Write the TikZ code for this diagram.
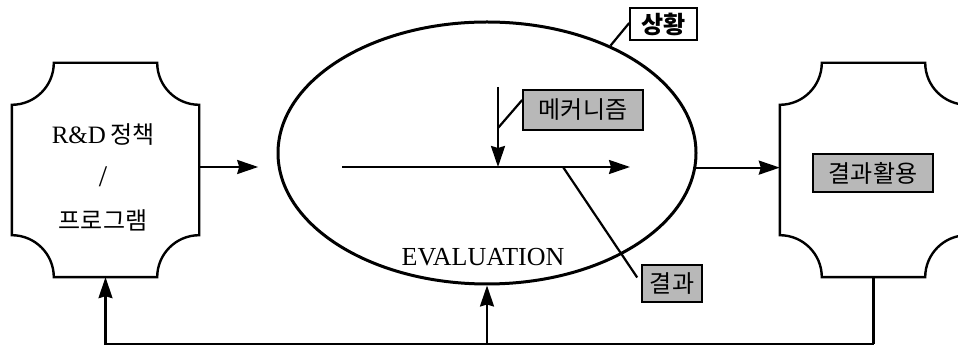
\documentclass[tikz,border=0pt]{standalone}
\usepackage{fontspec}
\setmainfont{Liberation Serif}
\newfontfamily\cjk{Noto Sans CJK KR}
\usetikzlibrary{arrows.meta,shapes.geometric,calc}
\newcommand\notchdraw[1]{\draw[line width=2.4pt] ([xshift=42pt]#1.north west) -- ([xshift=-42pt]#1.north east) arc[start angle=180,end angle=270,radius=42pt] -- ([yshift=42pt]#1.south east) arc[start angle=90,end angle=180,radius=42pt] -- ([xshift=42pt]#1.south west) arc[start angle=0,end angle=90,radius=42pt] -- ([yshift=-42pt]#1.north west) arc[start angle=270,end angle=360,radius=42pt] -- cycle;}
\begin{document}
\begin{tikzpicture}[x=1pt,y=1pt,
  arr/.style={line width=2.2pt,-{Stealth[length=21pt,width=14pt,inset=2pt]}},
  ln/.style={line width=2.2pt},
  lbl/.style={draw,line width=1.6pt,fill=black!28,inner sep=0pt,font=\cjk\fontsize{24}{26}\selectfont},
  notch/.style={inner sep=0pt,minimum width=187pt,minimum height=214pt}]
\useasboundingbox (0,0) rectangle (958,347);
\clip (0,0) rectangle (958,347);
\fill[white] (0,0) rectangle (958,347);
% notched boxes
\node[notch] (L) at (105.5,177) {};
\node[notch] (R) at (873.5,177) {};
\notchdraw{L}
\notchdraw{R}
\node[align=center,inner sep=0pt,font=\fontsize{25}{43}\selectfont] (Lt) at (103,170)
  {R\&D\,{\cjk\fontsize{24}{43}\selectfont 정책}\\{\fontsize{30}{43}\selectfont/}\\{\cjk\fontsize{24}{43}\selectfont 프로그램}};
% ellipse
\node[draw,ellipse,line width=3pt,inner sep=0pt,minimum width=418pt,minimum height=262pt] (E) at (487,194) {};
\node[font=\fontsize{26}{28}\selectfont,inner sep=0pt] (ev) at (483,90) {EVALUATION};
% inner arrows
\coordinate (a1) at (342,180);
\coordinate (a2) at (630,180);
\draw[arr] (a1) -- (a2);
\coordinate (v1) at (498,260);
\coordinate (v2) at (498,180);
\draw[arr] (v1) -- (v2);
% labels
\node[lbl,minimum width=120pt,minimum height=40pt] (M) at (583,237) {메커니즘};
\node[draw,line width=1.6pt,inner sep=0pt,minimum width=67pt,minimum height=32pt,font=\cjk\bfseries\fontsize{24}{26}\selectfont] (S) at (663.5,323) {상황};
\node[lbl,minimum width=60pt,minimum height=37pt] (K) at (672,63.5) {결과};
\node[lbl,minimum width=120pt,minimum height=38pt] (U) at (873,174) {결과활용};
% leaders
\coordinate (v3) at (498,219);
\draw[ln] ([yshift=10pt]M.west) -- (v3);
\draw[ln] ([yshift=1pt]S.west) -- (E.41);
\coordinate (a3) at (563,180);
\draw[ln] (a3) -- ([yshift=6pt,xshift=-4pt]K.west);
% main arrows
\draw[arr] (L.east |- a1) -- +(59,0);
\draw[arr] (E.-4) -- (R.west |- E.-4);
% feedback
\coordinate (fb) at (R.south |- 0,3);
\draw[ln] (R.south) -- (fb);
\draw[arr] (fb) -| (L.south);
\draw[arr] (E.south |- fb) -- (E.south);
\end{tikzpicture}
\end{document}
